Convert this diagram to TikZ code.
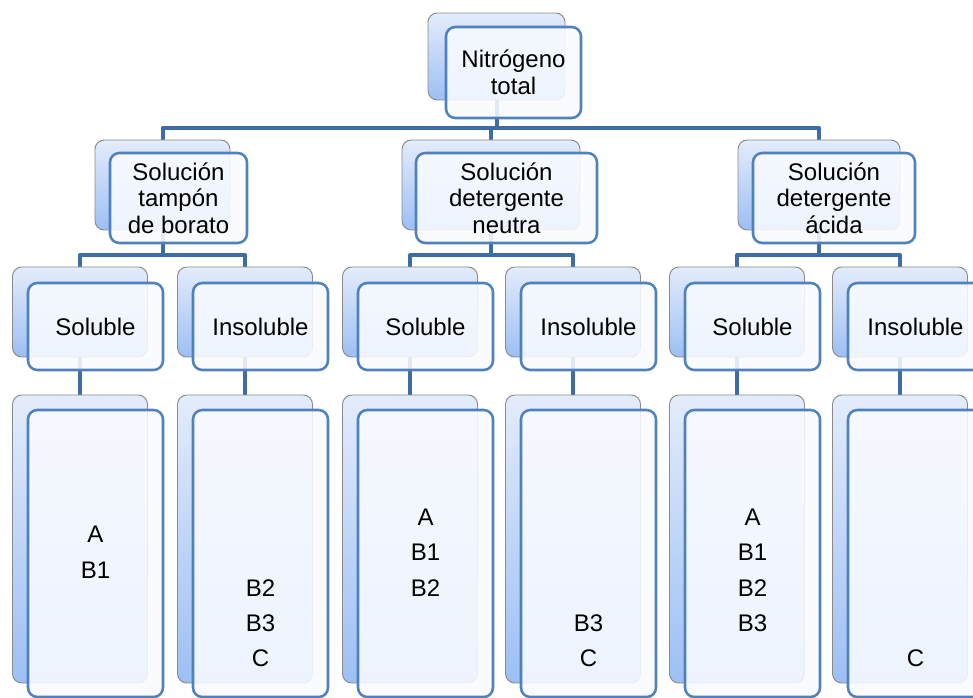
\documentclass[tikz,border=0pt]{standalone}
\usepackage{fontspec}
\setmainfont{Liberation Sans}
\usepackage{tikz}
\usetikzlibrary{backgrounds}
\definecolor{TreeLink}{HTML}{3E6DA6}
\definecolor{CardEdge}{HTML}{4F81BD}
\definecolor{CardFill}{HTML}{F9FBFF}
\definecolor{ShadeTop}{HTML}{E3ECFB}
\definecolor{ShadeBot}{HTML}{9DBFF4}
\definecolor{ShadeEdge}{HTML}{8A8A8A}

\begin{document}
\begin{tikzpicture}[x=0.75pt, y=-0.75pt,
  backcard/.style={draw=ShadeEdge, line width=0.7pt, rounded corners=7pt, top color=ShadeTop, bottom color=ShadeBot, inner sep=0pt},
  card/.style={draw=CardEdge, line width=1.9pt, rounded corners=7pt, fill=CardFill, fill opacity=0.88, text opacity=1, inner sep=0pt, align=center, text=black, font=\fontsize{18}{20}\selectfont},
  listcard/.style={card, font=\fontsize{18}{26.6}\selectfont},
  link/.style={TreeLink, line width=3pt, line join=round}]

\useasboundingbox (0,0) rectangle (973,698);

% top of the tree
\node[backcard, minimum width=102.75pt, minimum height=65.25pt] (rootb) at (496.5,56.5) {};
\node[card, minimum width=101.25pt, minimum height=68.25pt] (root) at (513.5,72.5) {Nitrógeno\\total};

% the three solutions
\node[backcard, minimum width=101.25pt, minimum height=67.5pt] (borb) at (162.5,185) {};
\node[card, minimum width=102.75pt, minimum height=67.5pt] (bor) at (178.5,198) {Solución\\tampón\\de borato};
\node[backcard, minimum width=133.5pt, minimum height=67.5pt] (neub) at (491,185) {};
\node[card, minimum width=135.75pt, minimum height=67.5pt] (neu) at (506.5,198) {Solución\\detergente\\neutra};
\node[backcard, minimum width=121.5pt, minimum height=67.5pt] (acib) at (819,185) {};
\node[card, minimum width=121.5pt, minimum height=67.5pt] (aci) at (834,198) {Solución\\detergente\\ácida};

% fractions + what each one holds
\foreach \i/\x/\lab/\items in {
  1/80/Soluble/{A\\B1},
  2/245/Insoluble/{~\\~\\~\\~\\B2\\B3\\C},
  3/410/Soluble/{A\\B1\\B2},
  4/573/Insoluble/{~\\~\\~\\~\\~\\B3\\C},
  5/737/Soluble/{~\\A\\B1\\B2\\B3},
  6/900/Insoluble/{~\\~\\~\\~\\~\\~\\C}}{
  \node[backcard, minimum width=101.25pt, minimum height=67.5pt] (fracb\i) at (\x,312) {};
  \node[card, minimum width=101.25pt, minimum height=65.25pt] (frac\i) at (\x+15.5,326.5) {\lab};
  \node[backcard, minimum width=101.25pt, minimum height=216pt] (listb\i) at (\x,539) {};
  \node[listcard, minimum width=101.25pt, minimum height=215.25pt] (list\i) at (\x+15.5,553.5) {\strut\items\strut};
}

% connectors behind the cards
\begin{scope}[on background layer]
  \coordinate (bar1) at (0,128);
  \coordinate (bar2) at (0,255);
  \foreach \s in {borb,neub,acib}
    \draw[link] (rootb.center) -- (rootb.center |- bar1) -| (\s.center);
  \foreach \s/\a/\b in {borb/1/2, neub/3/4, acib/5/6}{
    \draw[link] (\s.center) -- (\s.center |- bar2) -| (fracb\a.center);
    \draw[link] (\s.center) -- (\s.center |- bar2) -| (fracb\b.center);
  }
  \foreach \i in {1,...,6}
    \draw[link] (fracb\i.center) -- (listb\i.center);
\end{scope}
\end{tikzpicture}
\end{document}
